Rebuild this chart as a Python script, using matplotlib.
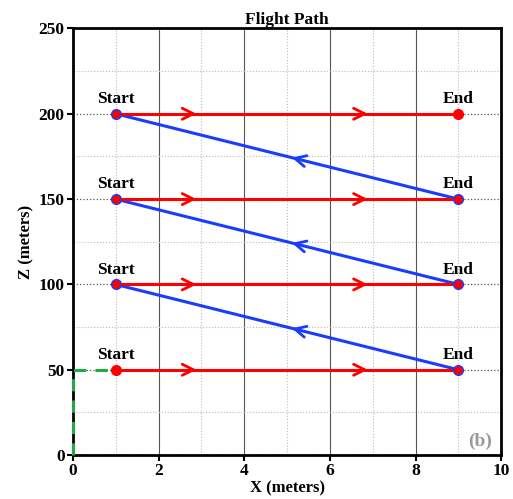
import matplotlib.pyplot as plt
import numpy as np

plt.rcParams['font.family'] = ['Liberation Serif', 'DejaVu Serif']
plt.rcParams['font.weight'] = 'bold'

x_start = 1
x_end = 9
alturas = [50, 100, 150, 200]
red_arrow_x = [2.95, 6.95]

fig, ax = plt.subplots(figsize=(5.13, 4.99), dpi=100)
fig.subplots_adjust(left=0.142, right=0.977, top=0.943, bottom=0.088)

ax.set_xlim(0, 10)
ax.set_ylim(0, 250)
ax.set_xticks(np.arange(0, 11, 2))
ax.set_yticks(np.arange(0, 251, 50))
ax.set_xticks(np.arange(1, 10, 2), minor=True)
ax.set_yticks(np.arange(25, 250, 50), minor=True)
ax.tick_params(which='minor', length=0)
ax.tick_params(which='major', width=1.5, length=4, labelsize=12.5, pad=2)

ax.grid(True, axis='x', which='major', color='#555555', linestyle='-', linewidth=0.8)
ax.grid(True, axis='y', which='major', color='#555555', linestyle=':', linewidth=0.9)
ax.grid(True, which='minor', color='#bbbbbb', linestyle=':', linewidth=0.8)
ax.set_axisbelow(True)
for sp in ax.spines.values():
    sp.set_linewidth(2)

# green dashed start path
ax.plot([0, 0, x_start], [0, alturas[0], alturas[0]], color='#22aa44',
        linestyle='--', linewidth=2.2, dashes=(4, 3), zorder=3, clip_on=False)

# red passes
for y in alturas:
    ax.plot([x_start, x_end], [y, y], color='red', linewidth=2.2, zorder=4)
    for xa in red_arrow_x:
        ax.annotate('', xy=(xa, y), xytext=(xa - 0.3, y),
                    arrowprops=dict(arrowstyle='->', color='red', lw=2,
                                    mutation_scale=20), zorder=5)

# blue returns
for y0, y1 in zip(alturas[:-1], alturas[1:]):
    ax.plot([x_end, x_start], [y0, y1], color='#1a3cff', linewidth=2.2, zorder=3)
    xm = (x_end + x_start) / 2 + 0.05
    ym = y0 + (y1 - y0) * (x_end - xm) / (x_end - x_start)
    ax.annotate('', xy=(xm, ym), xytext=(xm + 0.3, ym - 0.3 * (y1 - y0) / 8),
                arrowprops=dict(arrowstyle='->', color='#1a3cff', lw=2,
                                mutation_scale=20), zorder=5)

# markers
for i, y in enumerate(alturas):
    ec_start = 'red' if i == 0 else '#1a3cff'
    ec_end = 'red' if i == len(alturas) - 1 else '#1a3cff'
    ax.plot(x_start, y, 'o', color='red', markeredgecolor=ec_start, markersize=7, zorder=6)
    ax.plot(x_end, y, 'o', color='red', markeredgecolor=ec_end, markersize=7, zorder=6)
    ax.text(x_start, y + 4, 'Start', ha='center', va='bottom', fontsize=12.5, fontweight='bold')
    ax.text(x_end, y + 4, 'End', ha='center', va='bottom', fontsize=12.5, fontweight='bold')

ax.text(9.78, 3, '(b)', ha='right', va='bottom', fontsize=14, color='#999999', fontweight='bold')

ax.set_title('Flight Path', fontsize=12.5, fontweight='bold', pad=3)
ax.set_xlabel('X (meters)', fontsize=12, fontweight='bold', labelpad=1)
ax.set_ylabel('Z (meters)', fontsize=12, fontweight='bold', labelpad=3)

plt.savefig('out.png')
